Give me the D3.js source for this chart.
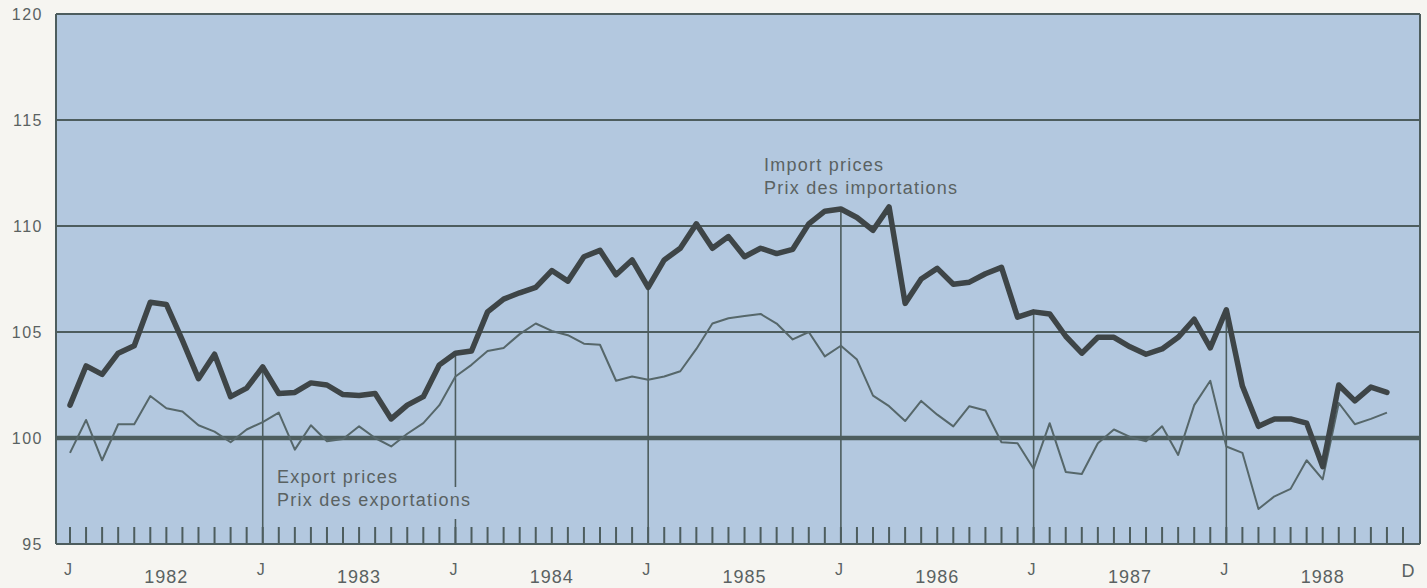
<!DOCTYPE html>
<html>
<head>
<meta charset="utf-8">
<script src="https://cdn.jsdelivr.net/npm/d3@7"></script>
<style>
  html, body { margin: 0; padding: 0; background: #f6f5f1; }
  svg { display: block; }
  text { font-family: "Liberation Sans", Arial, Helvetica, sans-serif; fill: #5a6262; }
</style>
</head>
<body>
<svg id="chart" width="1427" height="588"></svg>
<script>
// ---- data (monthly, Jan 1982 .. Nov 1988) ----
const years = [1982, 1983, 1984, 1985, 1986, 1987, 1988];
const yTicks = [95, 100, 105, 110, 115, 120];
const monthCount = 84; // Jan 1982 .. Dec 1988 tick marks

const importPrices = [
  101.55, 103.4, 103.0, 104.0, 104.35, 106.4, 106.3, 104.6, 102.8, 103.95, 101.95, 102.35,
  103.35, 102.1, 102.15, 102.6, 102.5, 102.05, 102.0, 102.1, 100.9, 101.55, 101.95, 103.45,
  104.0, 104.1, 105.95, 106.55, 106.85, 107.1, 107.9, 107.4, 108.55, 108.85, 107.7, 108.4,
  107.1, 108.4, 108.95, 110.1, 108.95, 109.5, 108.55, 108.95, 108.7, 108.9, 110.1, 110.7,
  110.8, 110.4, 109.8, 110.9, 106.35, 107.5, 108.0, 107.25, 107.35, 107.75, 108.05, 105.7,
  105.95, 105.85, 104.8, 104.0, 104.75, 104.75, 104.3, 103.95, 104.2, 104.75, 105.6, 104.25,
  106.05, 102.45, 100.55, 100.9, 100.9, 100.7, 98.65, 102.5, 101.75, 102.4, 102.15
];

const exportPrices = [
  99.3, 100.85, 98.95, 100.65, 100.65, 101.98, 101.4, 101.25, 100.6, 100.3, 99.8, 100.4,
  100.75, 101.2, 99.45, 100.6, 99.85, 99.95, 100.55, 100.0, 99.6, 100.2, 100.7, 101.55,
  102.9, 103.45, 104.1, 104.25, 104.9, 105.4, 105.05, 104.85, 104.45, 104.4, 102.7, 102.9,
  102.75, 102.9, 103.15, 104.2, 105.4, 105.65, 105.75, 105.85, 105.4, 104.65, 105.0, 103.85,
  104.35, 103.7, 102.0, 101.5, 100.8, 101.75, 101.1, 100.55, 101.5, 101.3, 99.8, 99.75,
  98.55, 100.7, 98.4, 98.3, 99.75, 100.4, 100.05, 99.85, 100.55, 99.2, 101.55, 102.7,
  99.6, 99.3, 96.65, 97.25, 97.6, 98.95, 98.05, 101.65, 100.65, 100.9, 101.2
];

const importLabel = ["Import prices", "Prix des importations"];
const exportLabel = ["Export prices", "Prix des exportations"];

// ---- layout ----
const svg = d3.select("#chart");
const frame = { left: 56, right: 1420, top: 14, bottom: 544 };
const x = d3.scaleLinear().domain([0, monthCount - 1]).range([70, 1403]);
const y = d3.scaleLinear().domain([95, 120]).range([frame.bottom, frame.top]);

const plotFill = "#b3c8df";
const gridColor = "#4d5d5e";

// plot background
svg.append("rect")
  .attr("x", frame.left).attr("y", frame.top)
  .attr("width", frame.right - frame.left).attr("height", frame.bottom - frame.top)
  .attr("fill", plotFill);

// horizontal grid lines
svg.append("g").selectAll("line").data(yTicks).join("line")
  .attr("x1", frame.left).attr("x2", frame.right)
  .attr("y1", d => y(d)).attr("y2", d => y(d))
  .attr("stroke", gridColor)
  .attr("stroke-width", d => d === 100 ? 4.5 : 2);

// frame sides
svg.append("line").attr("x1", frame.left).attr("x2", frame.left)
  .attr("y1", frame.top).attr("y2", frame.bottom)
  .attr("stroke", gridColor).attr("stroke-width", 2);
svg.append("line").attr("x1", frame.right).attr("x2", frame.right)
  .attr("y1", frame.top).attr("y2", frame.bottom)
  .attr("stroke", gridColor).attr("stroke-width", 2);

// monthly tick marks
svg.append("g").selectAll("line").data(d3.range(monthCount)).join("line")
  .attr("x1", d => x(d)).attr("x2", d => x(d))
  .attr("y1", frame.bottom - 17).attr("y2", frame.bottom)
  .attr("stroke", gridColor).attr("stroke-width", 2);

// January drop lines (from the import curve down to the axis)
const janIdx = years.slice(1).map((yr, k) => (k + 1) * 12);
svg.append("g").selectAll("line").data(janIdx).join("line")
  .attr("x1", d => x(d)).attr("x2", d => x(d))
  .attr("y1", d => y(importPrices[d])).attr("y2", frame.bottom)
  .attr("stroke", gridColor).attr("stroke-width", 1.6);

// series
const line = d3.line().x((d, i) => x(i)).y(d => y(d));
svg.append("path").datum(exportPrices)
  .attr("d", line).attr("fill", "none")
  .attr("stroke", "#56676a").attr("stroke-width", 2)
  .attr("stroke-linejoin", "round");
svg.append("path").datum(importPrices)
  .attr("d", line).attr("fill", "none")
  .attr("stroke", "#3e4547").attr("stroke-width", 5.5)
  .attr("stroke-linejoin", "round").attr("stroke-linecap", "round");

// series labels
function seriesLabel(lines, lx, ly, cut) {
  const g = svg.append("g");
  lines.forEach((t, k) => {
    const txt = g.append("text")
      .attr("x", lx).attr("y", ly + k * 23)
      .attr("font-size", 18).attr("letter-spacing", 1.25)
      .attr("fill", "#5d6a6c")
      .text(t);
    if (cut && k === lines.length - 1) {
      const b = txt.node().getBBox();
      g.insert("rect", "text")
        .attr("x", b.x + b.width - 30).attr("y", b.y - 3)
        .attr("width", 32).attr("height", b.height + 12)
        .attr("fill", plotFill);
    }
  });
}
seriesLabel(importLabel, 764, 171, false);
seriesLabel(exportLabel, 277, 483, true);

// y axis labels
svg.append("g").selectAll("text").data(yTicks).join("text")
  .attr("x", 43).attr("y", d => y(d) + 6)
  .attr("text-anchor", "end")
  .attr("font-size", 16).attr("letter-spacing", 1.5)
  .text(d => d);

// month letters
svg.append("g").selectAll("text").data(years).join("text")
  .attr("x", (d, k) => x(k * 12) - 2).attr("y", 575)
  .attr("text-anchor", "middle").attr("font-size", 16)
  .text("J");
svg.append("text")
  .attr("x", x(monthCount - 1) + 5).attr("y", 577)
  .attr("text-anchor", "middle").attr("font-size", 18)
  .text("D");

// year labels
svg.append("g").selectAll("text").data(years).join("text")
  .attr("x", (d, k) => x(k * 12 + 6)).attr("y", 583)
  .attr("text-anchor", "middle").attr("font-size", 18).attr("letter-spacing", 1)
  .text(d => d);
</script>
</body>
</html>
